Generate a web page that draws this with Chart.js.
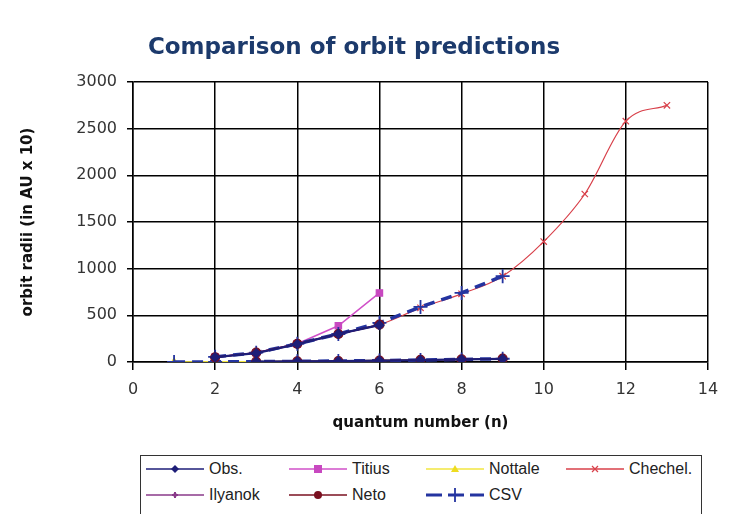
<!DOCTYPE html>
<html>
<head>
<meta charset="utf-8">
<script src="https://cdn.jsdelivr.net/npm/chart.js@4.4.1/dist/chart.umd.min.js"></script>
<style>
  html, body { margin: 0; padding: 0; background: #fff; overflow: hidden; }
  #wrap { position: relative; width: 730px; height: 514px; }
  #c { position: absolute; left: 0; top: 0; }
  #legend { position: absolute; left: 140px; top: 455px; width: 562px; height: 80px;
            border: 1px solid #333; box-sizing: border-box; background: #fff; }
  .item { position: absolute; height: 20px; font-family: "Liberation Sans", Arial, sans-serif;
          font-size: 16px; color: #222; line-height: 20px; white-space: nowrap; }
  .item svg { position: absolute; left: 0; top: 0; }
  .item span { position: absolute; top: 0; }
</style>
</head>
<body>
<div id="wrap">
  <canvas id="c" width="730" height="514"></canvas>
  <div id="legend"></div>
</div>
<script>
// ---------- data (orbit radius in AU x 10) ----------
const seriesNames = ["Obs.", "Titius", "Nottale", "Chechel.", "Ilyanok", "Neto", "CSV"];

// Observed: inner system n=3..9, outer system n=2..6 (gap between)
const obsInnerN   = [3, 4, 5, 6, 7, 8, 9];
const obsInnerVal = [3.9, 7.2, 10, 15.2, 21, 27.7, 33];
const obsOuterN   = [2, 3, 4, 5, 6];
const obsOuterVal = [52, 95, 192, 301, 395];

const titiusN   = [2, 3, 4, 5, 6];
const titiusVal = [52, 100, 196, 388, 740];

const nottaleN   = [1, 2, 3, 4, 5, 6, 7, 8, 9];
const nottaleVal = [0.4, 1.7, 3.9, 6.9, 10.8, 15.5, 21, 27.5, 34.8];

const chechelN   = [2, 3, 4, 5, 6, 7, 8, 9, 10, 11, 12, 13];
const chechelVal = [55, 100, 190, 300, 400, 580, 730, 920, 1290, 1800, 2580, 2750];

const ilyanokN   = [2, 3, 4, 5, 6];
const ilyanokVal = [50, 98, 190, 298, 400];

const netoInnerN   = [3, 4, 5, 6, 7, 8, 9];
const netoInnerVal = [4, 7, 10, 15, 22, 28, 36];
const netoOuterN   = [2, 3, 4, 5, 6];
const netoOuterVal = [50, 100, 195, 300, 400];

const csvInnerN   = [1, 2, 3, 4, 5, 6, 7, 8, 9];
const csvInnerVal = [0.4, 1.6, 3.9, 6.9, 10.5, 15.5, 21, 27.5, 35];
const csvOuterN   = [2, 3, 4, 5, 6, 7, 8, 9];
const csvOuterVal = [55, 100, 195, 300, 420, 590, 740, 920];

const xTicks = [0, 2, 4, 6, 8, 10, 12, 14];
const yTicks = [0, 500, 1000, 1500, 2000, 2500, 3000];

// ---------- helpers ----------
function pts(ns, vals) { return ns.map((n, i) => ({ x: n, y: vals[i] })); }
function withGap(a, b) { return a.concat([{ x: a[a.length - 1].x, y: null }], b); }

const styles = [
  { color: '#1e1e78', fill: '#1e1e78', point: 'rectRot', r: 4.5, w: 2.2, dash: [] },
  { color: '#d050c8', fill: '#c848c0', point: 'rect', r: 4.5, w: 1.5, dash: [] },
  { color: '#f2e640', fill: '#eedc20', point: 'triangle', r: 4, w: 1.5, dash: [] },
  { color: '#d8404a', fill: '#d8404a', point: 'crossRot', r: 4.5, w: 1.2, dash: [] },
  { color: '#8a3a8a', fill: '#8a3a8a', point: 'star', r: 3.5, w: 1.5, dash: [] },
  { color: '#7a1020', fill: '#7a1020', point: 'circle', r: 4.5, w: 1.5, dash: [] },
  { color: '#2434a0', fill: '#2434a0', point: 'cross', r: 7, w: 3.5, dash: [11, 7] }
];

const seriesData = [
  withGap(pts(obsInnerN, obsInnerVal), pts(obsOuterN, obsOuterVal)),
  pts(titiusN, titiusVal),
  pts(nottaleN, nottaleVal),
  pts(chechelN, chechelVal),
  pts(ilyanokN, ilyanokVal),
  withGap(pts(netoInnerN, netoInnerVal), pts(netoOuterN, netoOuterVal)),
  withGap(pts(csvInnerN, csvInnerVal), pts(csvOuterN, csvOuterVal))
];
const drawOrder = [1, 5, 7, 6, 4, 2, 3];

const datasets = seriesNames.map((name, i) => ({
  label: name,
  data: seriesData[i],
  showLine: true,
  spanGaps: false,
  borderColor: styles[i].color,
  backgroundColor: styles[i].fill,
  borderWidth: styles[i].w,
  borderDash: styles[i].dash,
  pointStyle: styles[i].point,
  pointRadius: styles[i].r,
  pointBorderColor: styles[i].fill,
  pointBackgroundColor: styles[i].fill,
  pointBorderWidth: i === 6 ? 1.8 : 1.2,
  cubicInterpolationMode: i === 3 ? 'monotone' : 'default',
  tension: 0,
  order: drawOrder[i]
}));

const tickFont = { family: 'DejaVu Sans', size: 16 };

new Chart(document.getElementById('c'), {
  type: 'scatter',
  data: { datasets },
  options: {
    responsive: false,
    animation: false,
    layout: { padding: { left: 0, right: 22, top: 0, bottom: 82 } },
    plugins: {
      legend: { display: false },
      tooltip: { enabled: false },
      title: {
        display: true,
        text: 'Comparison of orbit predictions',
        color: '#1c3a6c',
        font: { family: 'DejaVu Sans', size: 23, weight: 'bold', lineHeight: 1.2 },
        padding: { top: 34, bottom: 20.4 }
      }
    },
    scales: {
      x: {
        type: 'linear',
        min: 0, max: 14,
        afterFit: s => { s.height = 70; },
        afterBuildTicks: s => { s.ticks = xTicks.map(v => ({ value: v })); },
        grid: { color: '#000', lineWidth: 1.5, tickLength: 8, drawTicks: true },
        border: { color: '#000', width: 1.5 },
        ticks: { color: '#333', font: tickFont, padding: 10, maxRotation: 0,
                 callback: v => String(v) },
        title: {
          display: true, text: 'quantum number (n)', color: '#111',
          font: { family: 'DejaVu Sans', size: 15, weight: 'bold', lineHeight: 1.2 },
          padding: { top: 0, bottom: 0 }
        }
      },
      y: {
        type: 'linear',
        min: 0, max: 3000,
        afterFit: s => { s.width = 133; },
        afterBuildTicks: s => { s.ticks = yTicks.map(v => ({ value: v })); },
        grid: { color: '#000', lineWidth: 1.5, tickLength: 6, drawTicks: true },
        border: { color: '#000', width: 1.5 },
        ticks: { color: '#333', font: tickFont, padding: 10, callback: v => String(v) },
        title: {
          display: true, text: 'orbit radii (in AU x 10)', color: '#111',
          font: { family: 'DejaVu Sans', size: 15, weight: 'bold', lineHeight: 1.2 },
          padding: { top: 19, bottom: 0 }
        }
      }
    }
  }
});

// ---------- legend (HTML, built from the same series definitions) ----------
const legendCols = [5, 148, 285, 425];   // relative to legend box
const legendRows = [3, 29];
const legendSlots = [[0,0],[0,1],[0,2],[0,3],[1,0],[1,1],[1,2]];

function markerSvg(s, cx, cy) {
  const c = s.fill;
  switch (s.point) {
    case 'rectRot': return `<polygon points="${cx},${cy-4} ${cx+4},${cy} ${cx},${cy+4} ${cx-4},${cy}" fill="${c}"/>`;
    case 'rect': return `<rect x="${cx-4}" y="${cy-4}" width="8" height="8" fill="${c}"/>`;
    case 'triangle': return `<polygon points="${cx},${cy-4} ${cx+4},${cy+3} ${cx-4},${cy+3}" fill="${c}"/>`;
    case 'crossRot': return `<path d="M${cx-3},${cy-3}L${cx+3},${cy+3}M${cx+3},${cy-3}L${cx-3},${cy+3}" stroke="${c}" stroke-width="1.2"/>`;
    case 'star': return `<path d="M${cx-3},${cy}L${cx+3},${cy}M${cx},${cy-3}L${cx},${cy+3}" stroke="${c}" stroke-width="2"/><circle cx="${cx}" cy="${cy}" r="2" fill="${c}"/>`;
    case 'circle': return `<circle cx="${cx}" cy="${cy}" r="4" fill="${c}"/>`;
    case 'cross': return `<path d="M${cx-7},${cy}L${cx+7},${cy}M${cx},${cy-7}L${cx},${cy+7}" stroke="${c}" stroke-width="1.8"/>`;
  }
  return '';
}

const legendEl = document.getElementById('legend');
seriesNames.forEach((name, i) => {
  const [row, col] = legendSlots[i];
  const s = styles[i];
  const div = document.createElement('div');
  div.className = 'item';
  div.style.left = legendCols[col] + 'px';
  div.style.top = legendRows[row] + 'px';
  div.style.width = '140px';
  const lw = i === 6 ? 3 : 1.3;
  const dash = i === 6 ? 'stroke-dasharray="16 6"' : '';
  div.innerHTML =
    `<svg width="60" height="20"><line x1="0" y1="10" x2="58" y2="10" stroke="${s.color}" stroke-width="${lw}" ${dash}/>` +
    markerSvg(s, 29, 10) + `</svg><span style="left:63px">${name}</span>`;
  legendEl.appendChild(div);
});
</script>
</body>
</html>
